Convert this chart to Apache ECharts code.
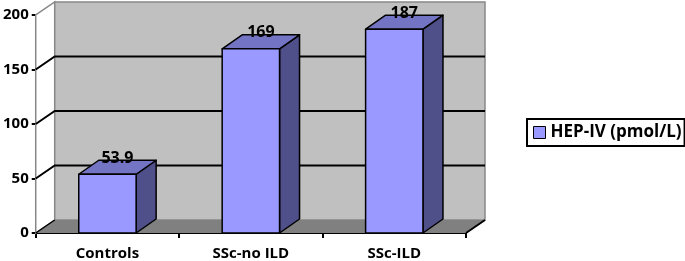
<!DOCTYPE html>
<html>
<head>
<meta charset="utf-8">
<script src="https://cdn.jsdelivr.net/npm/echarts@6/dist/echarts.min.js"></script>
<style>html,body{margin:0;padding:0;background:#fff;}#c{width:685px;height:261px;}</style>
</head>
<body>
<div id="c"></div>
<script>
const categories = ['Controls', 'SSc-no ILD', 'SSc-ILD'];
const values = [53.9, 169, 187];
const seriesName = 'HEP-IV (pmol/L)';
const gridTicks = [50, 100, 150];
const yMax = 200;

const FONT = 'Open Sans';
const DX = 19, DY = -13;      // wall depth
const BDX = 20, BDY = -14;    // bar depth

const chart = echarts.init(document.getElementById('c'), null, {renderer: 'canvas'});

function renderBackground(params, api) {
  const cs = params.coordSys;
  const x0 = cs.x, y0 = cs.y, w = cs.width, h = cs.height;
  const yb = y0 + h;
  const children = [];
  children.push({type: 'polygon', shape: {points: [[x0, yb], [x0, y0], [x0 + DX, y0 + DY], [x0 + DX, yb + DY]]},
    style: {fill: '#ffffff', stroke: '#888888', lineWidth: 1.5}});
  children.push({type: 'rect', shape: {x: x0 + DX, y: y0 + DY, width: w, height: h},
    style: {fill: '#c0c0c0', stroke: '#888888', lineWidth: 1.5}});
  children.push({type: 'polygon', shape: {points: [[x0, yb], [x0 + w, yb], [x0 + w + DX, yb + DY], [x0 + DX, yb + DY]]},
    style: {fill: '#808080', stroke: null}});
  children.push({type: 'line', shape: {x1: x0 + w, y1: yb, x2: x0 + w + DX, y2: yb + DY},
    style: {stroke: '#000', lineWidth: 2}});
  children.push({type: 'line', shape: {x1: x0, y1: yb, x2: x0 + DX, y2: yb + DY},
    style: {stroke: '#000', lineWidth: 1.5}});
  gridTicks.forEach(function (v) {
    const y = api.coord([0, v])[1];
    children.push({type: 'polyline', shape: {points: [[x0, y], [x0 + DX, y + DY], [x0 + DX + w, y + DY]]},
      style: {stroke: '#000', lineWidth: 2, fill: null}});
  });
  return {type: 'group', children: children};
}

function renderBar(params, api) {
  const xi = api.value(0), v = api.value(1);
  const top = api.coord([xi, v]);
  const base = api.coord([xi, 0]);
  const bw = api.size([1, 0])[0] * 0.4;
  const l = top[0] - bw / 2, r = top[0] + bw / 2;
  const t = top[1], b = base[1];
  const st = {stroke: '#000', lineWidth: 1.5, lineJoin: 'round'};
  return {type: 'group', children: [
    {type: 'polygon', shape: {points: [[r, t], [r + BDX, t + BDY], [r + BDX, b + BDY], [r, b]]},
      style: Object.assign({fill: '#4f4f8a'}, st)},
    {type: 'polygon', shape: {points: [[l, t], [r, t], [r + BDX, t + BDY], [l + BDX, t + BDY]]},
      style: Object.assign({fill: '#7474c4'}, st)},
    {type: 'rect', shape: {x: l, y: t, width: bw, height: b - t},
      style: Object.assign({fill: '#9999ff'}, st)},
    {type: 'text', x: top[0] + BDX / 2, y: t + BDY - 2,
      style: {text: String(v), fill: '#000', font: 'bold 16px "' + FONT + '"', align: 'center', verticalAlign: 'middle'}}
  ]};
}

chart.setOption({
  animation: false,
  backgroundColor: '#ffffff',
  grid: {left: 34, right: 219, top: 15, bottom: 28},
  legend: {
    left: 527, top: 119,
    data: [{name: seriesName, icon: 'rect'}],
    itemWidth: 12, itemHeight: 12,
    itemGap: 5,
    itemStyle: {borderColor: '#000', borderWidth: 1},
    borderColor: '#000', borderWidth: 2,
    padding: [5, 3, 5, 6],
    textStyle: {fontFamily: FONT, fontWeight: 'bold', fontSize: 17, color: '#000'}
  },
  xAxis: {
    type: 'category', data: categories, boundaryGap: true,
    axisLine: {lineStyle: {color: '#000', width: 2}},
    axisTick: {show: true, length: 5, lineStyle: {color: '#000', width: 2}},
    axisLabel: {margin: 13, color: '#000', fontFamily: FONT, fontWeight: 'bold', fontSize: 15},
    splitLine: {show: false}
  },
  yAxis: {
    type: 'value', min: 0, max: yMax, interval: 50,
    axisLine: {show: true, lineStyle: {color: '#000', width: 2}},
    axisTick: {show: true, length: 4, lineStyle: {color: '#000', width: 2}},
    axisLabel: {margin: 7, color: '#000', fontFamily: FONT, fontWeight: 'bold', fontSize: 15},
    splitLine: {show: false}
  },
  series: [
    {type: 'custom', name: '__bg', silent: true, z: 1, renderItem: renderBackground, data: [[0, 0]]},
    {type: 'custom', name: seriesName, z: 3, renderItem: renderBar,
      itemStyle: {color: '#9999ff'},
      encode: {x: 0, y: 1},
      data: categories.map(function (c, i) { return [i, values[i]]; })}
  ]
});
</script>
</body>
</html>
